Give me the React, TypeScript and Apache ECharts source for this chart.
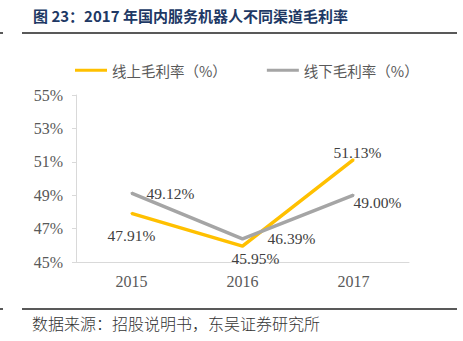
import React, { useEffect, useRef } from "react";
import * as echarts from "echarts";

const title = "图 23：2017 年国内服务机器人不同渠道毛利率";
const source = "数据来源：招股说明书，东吴证券研究所";
const categories = ["2015", "2016", "2017"];
const onlineName = "线上毛利率（%）";
const offlineName = "线下毛利率（%）";
const onlineValues = [47.91, 45.95, 51.13];
const offlineValues = [49.12, 46.39, 49.0];

const onlineLabelPos = ["bottom", "bottom", "top"];
const onlineLabelOffset = [[0, 8], [13, -2], [4, 7]];
const offlineLabelPos = ["right", "right", "right"];
const offlineLabelOffset = [[9, 0], [19, 0], [-6, 7]];

const labelFont = { fontFamily: "Liberation Serif", fontSize: 15.5, color: "#404040" };

export default function App() {
  const ref = useRef<HTMLDivElement>(null);
  useEffect(() => {
    const chart = echarts.init(ref.current!, null, { renderer: "svg" });
    const mk = (vals: number[], pos: string[], off: number[][]) =>
      vals.map((v, i) => ({
        value: v,
        label: { show: true, position: pos[i], offset: off[i], formatter: v.toFixed(2) + "%", ...labelFont },
      }));
    chart.setOption({
      animation: false,
      backgroundColor: "#ffffff",
      grid: { left: 76, right: 54, top: 95, bottom: 79 },
      legend: {
        top: 58,
        left: 70,
        itemGap: 40,
        itemWidth: 32,
        itemHeight: 3,
        icon: "rect",
        textStyle: { fontFamily: "Noto Sans CJK SC", fontSize: 14.5, color: "#595959" },
        data: [onlineName, offlineName],
      },
      xAxis: {
        type: "category",
        data: categories,
        axisLine: { lineStyle: { color: "#d9d9d9", width: 1 } },
        axisTick: { show: false },
        axisLabel: { fontFamily: "Liberation Serif", fontSize: 16, color: "#595959", margin: 11 },
      },
      yAxis: {
        type: "value",
        min: 45,
        max: 55,
        interval: 2,
        splitLine: { show: false },
        axisLine: { show: true, lineStyle: { color: "#d9d9d9", width: 1 } },
        axisTick: { show: true, length: 4, lineStyle: { color: "#d9d9d9" } },
        axisLabel: { formatter: "{value}%", fontFamily: "Liberation Serif", fontSize: 16, color: "#595959", margin: 13 },
      },
      series: [
        {
          name: onlineName,
          type: "line",
          data: mk(onlineValues, onlineLabelPos, onlineLabelOffset),
          symbol: "circle",
          symbolSize: 2,
          lineStyle: { color: "#FFC000", width: 3.5 },
          itemStyle: { color: "#FFC000" },
        },
        {
          name: offlineName,
          type: "line",
          data: mk(offlineValues, offlineLabelPos, offlineLabelOffset),
          symbol: "circle",
          symbolSize: 2,
          lineStyle: { color: "#A5A5A5", width: 3.5 },
          itemStyle: { color: "#A5A5A5" },
        },
      ],
      graphic: [
        {
          type: "text",
          left: 33,
          top: 8,
          style: { text: title, fontFamily: "Noto Sans CJK SC", fontWeight: "bold", fontSize: 15, fill: "#203864" },
        },
        { type: "line", shape: { x1: 0, y1: 33, x2: 3, y2: 33 }, style: { stroke: "#222", lineWidth: 1.5 } },
        { type: "line", shape: { x1: 22, y1: 33, x2: 457, y2: 33 }, style: { stroke: "#222", lineWidth: 1.5 } },
        { type: "line", shape: { x1: 0, y1: 309, x2: 3, y2: 309 }, style: { stroke: "#222", lineWidth: 1.5 } },
        { type: "line", shape: { x1: 22, y1: 309, x2: 457, y2: 309 }, style: { stroke: "#222", lineWidth: 1.5 } },
        {
          type: "text",
          left: 32,
          top: 315,
          style: { text: source, fontFamily: "Noto Sans CJK SC", fontWeight: 300, fontSize: 16, fill: "#333" },
        },
      ],
    });
    return () => chart.dispose();
  }, []);
  return <div ref={ref} style={{ width: 463, height: 341, position: "absolute", left: 0, top: 0 }} />;
}
